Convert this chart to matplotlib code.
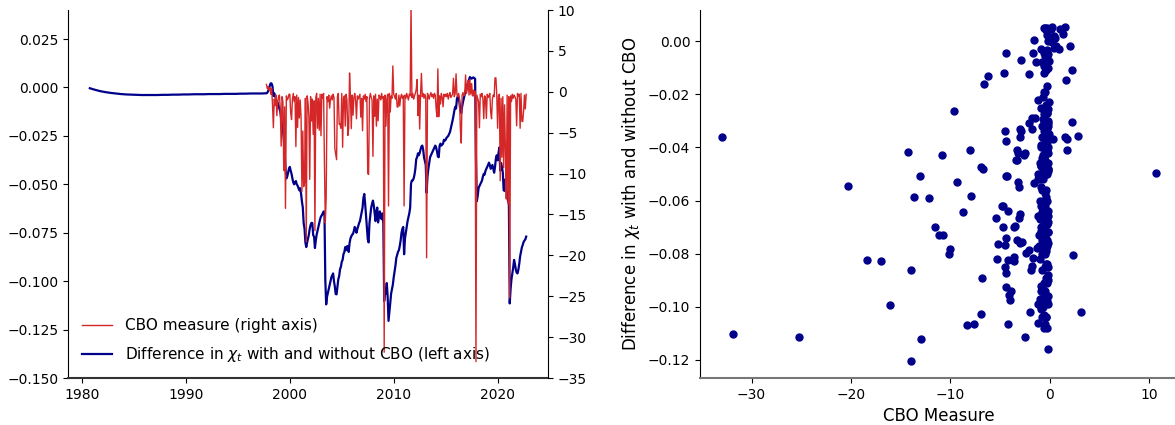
import numpy as np
import matplotlib
matplotlib.use("Agg")
import matplotlib.pyplot as plt
from matplotlib.ticker import MultipleLocator

# difference in chi_t before the CBO measure is available (half-yearly from Oct 1980)
diff_early = [-0.0004, -0.0012, -0.0019, -0.0024, -0.0028, -0.0031, -0.0034, -0.0036,
              -0.0037, -0.0038, -0.0039, -0.0039, -0.0039, -0.0039, -0.0038, -0.0038,
              -0.0037, -0.0037, -0.0036, -0.0036, -0.0035, -0.0035, -0.0035, -0.0034,
              -0.0034, -0.0034, -0.0033, -0.0033, -0.0033, -0.0032, -0.0032, -0.0031,
              -0.0031, -0.0031]

# monthly, Oct 1997 - Oct 2022
diff = [
    -0.0030, -0.0027, -0.0018,  # 1997
    -0.0005, 0.0012, 0.0022, 0.0020, 0.0005, -0.0044, -0.0030, -0.0045, -0.0060, -0.0073, -0.0079, -0.0095,  # 1998
    -0.0110, -0.0125, -0.0160, -0.0190, -0.0220, -0.0262, -0.0330, -0.0418, -0.0470, -0.0460, -0.0440, -0.0420,  # 1999
    -0.0410, -0.0430, -0.0446, -0.0470, -0.0490, -0.0500, -0.0490, -0.0483, -0.0500, -0.0507, -0.0520, -0.0531,  # 2000
    -0.0520, -0.0549, -0.0589, -0.0620, -0.0701, -0.0729, -0.0800, -0.0824, -0.0800, -0.0780, -0.0760, -0.0729,  # 2001
    -0.0710, -0.0699, -0.0700, -0.0763, -0.0770, -0.0829, -0.0790, -0.0760, -0.0741, -0.0720, -0.0700, -0.0680,  # 2002
    -0.0666, -0.0660, -0.0650, -0.0640, -0.0642, -0.0994, -0.1120, -0.1080, -0.1060, -0.1040, -0.1020, -0.1000,  # 2003
    -0.0980, -0.0970, -0.0960, -0.1000, -0.1028, -0.1066, -0.1068, -0.1030, -0.0990, -0.0974, -0.0939, -0.0926,  # 2004
    -0.0900, -0.0890, -0.0860, -0.0850, -0.0824, -0.0840, -0.0820, -0.0819, -0.0849, -0.0804, -0.0780, -0.0769,  # 2005
    -0.0760, -0.0756, -0.0740, -0.0720, -0.0730, -0.0750, -0.0730, -0.0716, -0.0700, -0.0690, -0.0666, -0.0642,  # 2006
    -0.0621, -0.0570, -0.0550, -0.0600, -0.0660, -0.0720, -0.0782, -0.0800, -0.0700, -0.0660, -0.0620, -0.0600,  # 2007
    -0.0584, -0.0610, -0.0650, -0.0690, -0.0640, -0.0620, -0.0697, -0.0670, -0.0640, -0.0660, -0.0680, -0.0650,  # 2008
    -0.0700, -0.1103, -0.1040, -0.1064, -0.1010, -0.1080, -0.1205, -0.1160, -0.1113, -0.1064, -0.1040, -0.1018,  # 2009
    -0.0980, -0.0950, -0.0920, -0.0880, -0.0863, -0.0848, -0.0840, -0.0818, -0.0790, -0.0750, -0.0730, -0.0720,  # 2010
    -0.0861, -0.0780, -0.0750, -0.0720, -0.0690, -0.0670, -0.0650, -0.0620, -0.0496, -0.0480, -0.0480, -0.0470,  # 2011
    -0.0450, -0.0420, -0.0370, -0.0360, -0.0340, -0.0350, -0.0338, -0.0320, -0.0305, -0.0300, -0.0320, -0.0360,  # 2012
    -0.0380, -0.0400, -0.0544, -0.0460, -0.0420, -0.0390, -0.0360, -0.0350, -0.0340, -0.0330, -0.0320, -0.0310,  # 2013
    -0.0300, -0.0310, -0.0330, -0.0357, -0.0360, -0.0300, -0.0290, -0.0300, -0.0295, -0.0290, -0.0270, -0.0275,  # 2014
    -0.0270, -0.0260, -0.0255, -0.0250, -0.0240, -0.0230, -0.0210, -0.0190, -0.0170, -0.0147, -0.0120, -0.0100,  # 2015
    -0.0109, -0.0060, -0.0045, -0.0050, -0.0080, -0.0120, -0.0133, -0.0100, -0.0075, -0.0055, -0.0035, -0.0017,  # 2016
    0.0000, 0.0015, 0.0028, 0.0040, 0.0054, 0.0048, 0.0045, 0.0050, 0.0052, 0.0048, 0.0045, -0.0362,  # 2017
    -0.0587, -0.0560, -0.0520, -0.0509, -0.0500, -0.0490, -0.0480, -0.0460, -0.0446, -0.0450, -0.0430, -0.0420,  # 2018
    -0.0410, -0.0400, -0.0388, -0.0400, -0.0420, -0.0410, -0.0400, -0.0420, -0.0440, -0.0411, -0.0367, -0.0350,  # 2019
    -0.0376, -0.0340, -0.0310, -0.0428, -0.0390, -0.0410, -0.0440, -0.0531, -0.0534, -0.0475, -0.0506, -0.0560,  # 2020
    -0.0586, -0.0600, -0.1115, -0.1040, -0.0990, -0.0960, -0.0930, -0.0890, -0.0910, -0.0940, -0.0956, -0.0960,  # 2021
    -0.0940, -0.0910, -0.0872, -0.0850, -0.0826, -0.0813, -0.0798, -0.0790, -0.0785, -0.0770,  # 2022
]

cbo = [
    0.9, 0.4, 0.6,  # 1997
    0.2, 0.5, -0.3, 0.4, -1.57, -4.4, -0.9, -1.7, -0.4, -2.92, -1.37, -0.6,  # 1998
    -0.4, -2.1, -6.65, -0.6, -1.2, -9.63, -1.84, -14.26, -0.5, -1.0, -0.8, -0.3,  # 1999
    -0.3, -2.6, -3.4, -0.9, -0.2, -1.2, -0.6, -6.7, -0.4, -4.36, -0.7, -3.2,  # 2000
    -1.0, -3.15, -12.2, -4.8, -11.6, -11.1, -0.8, -18.36, -0.5, -1.3, -3.0, -10.7,  # 2001
    -0.6, -3.58, -0.9, -5.2, -1.1, -16.98, -0.7, -0.2, -4.46, -0.8, -4.7, -0.3,  # 2002
    -5.37, -0.3, -0.8, -0.2, -8.76, -16.04, -12.95, -0.6, -1.2, -0.4, -2.0, -0.9,  # 2003
    -0.5, -1.0, -0.3, -0.7, -6.95, -7.6, -8.3, -0.6, -0.2, -3.96, -3.9, -4.46,  # 2004
    -0.2, -6.78, -0.8, -0.5, -4.2, -0.3, -1.0, -5.34, -4.5, 2.3, -0.6, -4.5,  # 2005
    -0.4, -2.85, -0.7, -0.2, -1.1, -3.3, -0.5, -0.9, -0.6, -0.3, -3.1, -0.8,  # 2006
    -4.76, -0.5, -0.9, -0.3, -1.2, -0.6, -10.0, -10.1, -0.8, -0.2, -0.7, -1.0,  # 2007
    -7.9, -0.5, -3.0, -0.3, -4.2, -0.9, -3.55, -0.4, -0.6, -1.0, -0.2, -0.8,  # 2008
    -0.6, -31.85, -0.4, -4.2, -0.9, -0.3, -13.96, -0.2, -2.48, -0.5, -0.8, 3.16,  # 2009
    -0.3, -0.6, -0.9, -0.2, -1.87, -1.84, -0.4, -1.74, -0.7, -0.3, -0.8, -0.5,  # 2010
    -13.96, -0.4, -0.8, -0.2, -0.6, -1.0, -0.3, -0.5, 10.7, -0.7, -0.2, -0.9,  # 2011
    -0.5, -0.2, 0.3, 1.5, -2.9, -0.4, -4.56, -0.3, 2.25, -0.6, -0.2, -0.8,  # 2012
    -0.3, -0.7, -20.3, -0.2, -0.5, -0.9, -0.4, -0.1, -0.6, -0.3, -0.8, -0.2,  # 2013
    -0.4, -2.1, -3.05, 2.8, -3.05, -0.5, -1.5, -0.2, -0.7, -1.84, -0.3, -0.6,  # 2014
    -0.3, -0.6, -0.2, -0.9, -0.4, -0.1, -0.7, -0.5, -0.3, 1.65, -0.6, -0.2,  # 2015
    2.2, -0.3, -0.6, -0.2, -0.8, -4.6, -6.27, -0.4, -0.1, -0.5, -0.3, 2.05,  # 2016
    -0.2, 0.3, 1.35, -0.4, 1.48, -0.3, 1.0, -0.5, 0.2, -0.6, 0.1, -33.0,  # 2017
    -0.4, -0.8, -1.2, -4.4, -0.3, -0.6, -0.2, -0.9, -3.3, -0.5, -0.7, -3.25,  # 2018
    -0.3, -0.7, -0.5, -0.2, -2.5, -3.3, -0.9, -0.4, -0.6, 1.7, 1.7, -0.3,  # 2019
    -4.46, -0.5, -0.3, -10.87, -0.8, -8.0, -0.6, -9.3, -1.6, -6.95, -13.1, -0.4,  # 2020
    -13.7, -0.6, -25.2, -0.5, -1.2, -0.3, -0.8, -0.4, -0.6, -0.9, -4.16, -0.2,  # 2021
    -0.5, -0.3, -4.46, -0.2, -3.6, -3.65, -2.4, -0.4, -2.1, -0.3,  # 2022
]

early_t = 1980.75 + 0.5 * np.arange(len(diff_early))
t = 1997.75 + np.arange(len(diff)) / 12.0

blue = 'darkblue'
red = '#d62728'

fig = plt.figure(figsize=(11.75, 4.25), dpi=100)

# left panel: time series with twin axis
ax = fig.add_axes([68 / 1175, 47 / 425, 480 / 1175, 368 / 425])
l1, = ax.plot(np.r_[early_t, t], np.r_[diff_early, diff], color=blue, lw=1.6,
              label=r'Difference in $\chi_t$ with and without CBO (left axis)')
ax.set_ylim(-0.15, 0.04)
ax.yaxis.set_major_locator(MultipleLocator(0.025))
ax.xaxis.set_major_locator(MultipleLocator(10))
ax.spines['top'].set_visible(False)
ax.spines['right'].set_visible(False)
ax.spines['bottom'].set_linewidth(1.5)
ax.spines['bottom'].set_color('#333333')
ax.tick_params(labelsize=10)

ax2 = ax.twinx()
l2, = ax2.plot(t, cbo, color=red, lw=1.0, label='CBO measure (right axis)')
ax2.set_ylim(-35, 10)
ax2.yaxis.set_major_locator(MultipleLocator(5))
for s in ['top', 'left', 'bottom']:
    ax2.spines[s].set_visible(False)
ax2.tick_params(labelsize=10)
ax2.legend([l2, l1], [l2.get_label(), l1.get_label()], loc='lower left',
           frameon=False, fontsize=11, labelspacing=0.8)

# right panel: scatter
ax3 = fig.add_axes([700 / 1175, 47 / 425, 478 / 1175, 368 / 425])
ax3.scatter(cbo, diff, s=25, color=blue)
ax3.set_xlabel('CBO Measure', fontsize=12)
ax3.set_ylabel(r'Difference in $\chi_t$ with and without CBO', fontsize=12)
ax3.spines['top'].set_visible(False)
ax3.spines['right'].set_visible(False)
ax3.spines['bottom'].set_color('#777777')
ax3.spines['bottom'].set_linewidth(1.5)
ax3.tick_params(labelsize=10)

fig.savefig('out.png', dpi=100)
